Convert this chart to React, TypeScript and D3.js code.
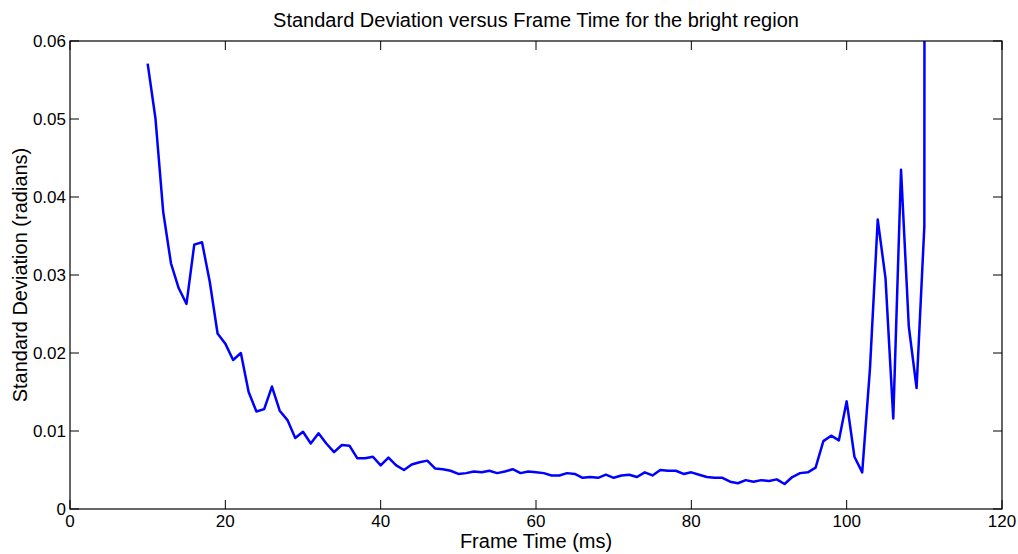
import React from "react";
import * as d3 from "d3";

const frameTimes: number[] = [
  10, 11, 12, 13, 14, 15, 16, 17, 18, 19, 20, 21, 22, 23, 24, 25, 26, 27, 28, 29,
  30, 31, 32, 33, 34, 35, 36, 37, 38, 39, 40, 41, 42, 43, 44, 45, 46, 47, 48, 49,
  50, 51, 52, 53, 54, 55, 56, 57, 58, 59, 60, 61, 62, 63, 64, 65, 66, 67, 68, 69,
  70, 71, 72, 73, 74, 75, 76, 77, 78, 79, 80, 81, 82, 83, 84, 85, 86, 87, 88, 89,
  90, 91, 92, 93, 94, 95, 96, 97, 98, 99, 100, 101, 102, 103, 104, 105, 106, 107, 108, 109,
  110, 111,
];

const stdDevs: number[] = [
  0.0571, 0.0501, 0.0381, 0.0315, 0.0283, 0.0263, 0.0339, 0.0342, 0.0291, 0.0225,
  0.0212, 0.0191, 0.02, 0.015, 0.0125, 0.0128, 0.0157, 0.0126, 0.0114, 0.0091,
  0.0099, 0.0084, 0.0097, 0.0084, 0.0073, 0.0082, 0.0081, 0.0065, 0.0065, 0.0067,
  0.0056, 0.0066, 0.0056, 0.005, 0.0057, 0.006, 0.0062, 0.0052, 0.0051, 0.0049,
  0.0045, 0.0046, 0.0048, 0.0047, 0.0049, 0.0046, 0.0048, 0.0051, 0.0046, 0.0048,
  0.0047, 0.0046, 0.0043, 0.0043, 0.0046, 0.0045, 0.004, 0.0041, 0.004, 0.0044,
  0.004, 0.0043, 0.0044, 0.0041, 0.0047, 0.0043, 0.005, 0.0049, 0.0049, 0.0045,
  0.0047, 0.0044, 0.0041, 0.004, 0.004, 0.0035, 0.0033, 0.0037, 0.0035, 0.0037,
  0.0036, 0.0038, 0.0032, 0.0041, 0.0046, 0.0047, 0.0053, 0.0087, 0.0094, 0.0088,
  0.0138, 0.0067, 0.0047, 0.018, 0.0371, 0.0296, 0.0116, 0.0435, 0.0234, 0.0155,
  0.0362, 1.5,
];

const xTicks: number[] = [0, 20, 40, 60, 80, 100, 120];
const yTicks: number[] = [0, 0.01, 0.02, 0.03, 0.04, 0.05, 0.06];
const yTickLabels: string[] = ["0", "0.01", "0.02", "0.03", "0.04", "0.05", "0.06"];

const titleText = "Standard Deviation versus Frame Time for the bright region";
const xLabelText = "Frame Time (ms)";
const yLabelText = "Standard Deviation (radians)";

const W = 1018;
const H = 554;
const L = 70;
const R = 1002;
const T = 41;
const B = 509;
const TICK = 9;
const FONT = "'Liberation Sans', Arial, Helvetica, sans-serif";

export default function App() {
  const x = d3.scaleLinear().domain([0, 120]).range([L, R]);
  const y = d3.scaleLinear().domain([0, 0.06]).range([B, T]);
  const pts = frameTimes.map((t, i) => [t, stdDevs[i]] as [number, number]);
  const line = d3
    .line<[number, number]>()
    .x((d) => x(d[0]))
    .y((d) => y(d[1]));

  return (
    <svg
      width={W}
      height={H}
      style={{ position: "absolute", left: 0, top: 0, background: "#fff" }}
      fontFamily={FONT}
    >
      <defs>
        <clipPath id="plotclip">
          <rect x={L} y={T} width={R - L} height={B - T} />
        </clipPath>
      </defs>
      <rect x={0} y={0} width={W} height={H} fill="#fff" />
      <path
        d={line(pts) || ""}
        fill="none"
        stroke="#0000ff"
        strokeWidth={2.5}
        strokeLinejoin="round"
        clipPath="url(#plotclip)"
      />
      <rect x={L} y={T} width={R - L} height={B - T} fill="none" stroke="#000" strokeWidth={1.2} />
      {xTicks.map((t) => (
        <g key={"x" + t}>
          <line x1={x(t)} x2={x(t)} y1={B} y2={B - TICK} stroke="#000" strokeWidth={1} />
          <line x1={x(t)} x2={x(t)} y1={T} y2={T + TICK} stroke="#000" strokeWidth={1} />
          <text x={x(t)} y={527} fontSize={17} textAnchor="middle" fill="#000">
            {t}
          </text>
        </g>
      ))}
      {yTicks.map((t, i) => (
        <g key={"y" + t}>
          <line x1={L} x2={L + TICK} y1={y(t)} y2={y(t)} stroke="#000" strokeWidth={1} />
          <line x1={R} x2={R - TICK} y1={y(t)} y2={y(t)} stroke="#000" strokeWidth={1} />
          <text x={66} y={y(t) + 6} fontSize={17} textAnchor="end" fill="#000">
            {yTickLabels[i]}
          </text>
        </g>
      ))}
      <text x={(L + R) / 2} y={27} fontSize={20} textAnchor="middle" fill="#000">
        {titleText}
      </text>
      <text x={(L + R) / 2} y={548} fontSize={20} textAnchor="middle" fill="#000">
        {xLabelText}
      </text>
      <text
        transform={`translate(27, ${(T + B) / 2}) rotate(-90)`}
        fontSize={20}
        textAnchor="middle"
        fill="#000"
      >
        {yLabelText}
      </text>
    </svg>
  );
}
